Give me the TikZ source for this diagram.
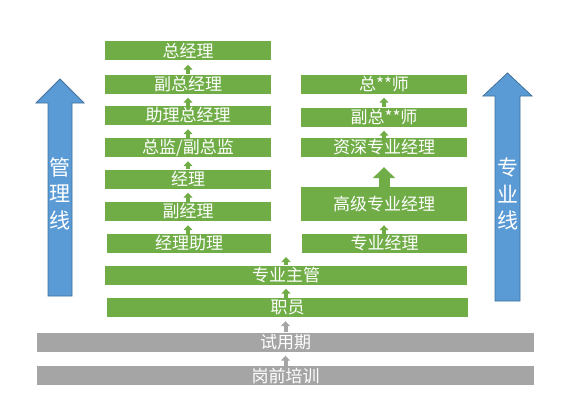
\documentclass[tikz,border=0pt]{standalone}
\usepackage{fontspec}
\setmainfont{Noto Sans CJK SC}
\usetikzlibrary{arrows.meta}
\definecolor{boxgreen}{HTML}{70AD47}
\definecolor{boxgray}{HTML}{A5A5A5}
\definecolor{lineblue}{HTML}{5B9BD5}
\definecolor{lineblueedge}{HTML}{41719C}
\begin{document}
\begin{tikzpicture}[x=1pt,y=-1pt,
  gbox/.style={fill=boxgreen,text=white,inner sep=0pt,minimum height=19pt,
    font=\fontsize{17}{18}\selectfont},
  graybox/.style={gbox,fill=boxgray},
  uparr/.style={-{Triangle[width=9pt,length=5pt]},line width=4pt,boxgreen},
  grayarr/.style={uparr,boxgray},
  bigarr/.style={-{Triangle[width=22pt,length=11pt]},line width=11pt,boxgreen},
  bluearr/.style={fill=lineblue,draw=lineblueedge,line width=0.8pt},
  bluetext/.style={text=white,align=center,font=\fontsize{21}{26.5}\selectfont}]
\useasboundingbox (0,0) rectangle (575,404);
% management line
\node[gbox,minimum width=166pt] (gm) at (188,51) {总经理};
\node[gbox,minimum width=166pt] (vgm) at (188,84) {副总经理};
\node[gbox,minimum width=166pt] (agm) at (188,115.5) {助理总经理};
\node[gbox,minimum width=166pt] (dir) at (188,147.5) {总监/副总监};
\node[gbox,minimum width=166pt] (mgr) at (188,179) {经理};
\node[gbox,minimum width=166pt] (vmgr) at (188,211.5) {副经理};
\node[gbox,minimum width=164pt] (amgr) at (189,243.5) {经理助理};
% expert line
\node[gbox,minimum width=166pt] (chief) at (384,84) {总**师};
\node[gbox,minimum width=166pt] (vchief) at (384,117) {副总**师};
\node[gbox,minimum width=166pt] (senior) at (384,147.5) {资深专业经理};
\node[gbox,minimum width=166pt,minimum height=34pt] (high) at (384,204) {高级专业经理};
\node[gbox,minimum width=165pt] (expert) at (384.5,243.5) {专业经理};
% common base
\node[gbox,minimum width=362pt] (sup) at (286,275) {专业主管};
\node[gbox,minimum width=361pt] (staff) at (287.5,307.5) {职员};
\node[graybox,minimum width=497pt] (trial) at (285.5,342) {试用期};
\node[graybox,minimum width=497pt] (train) at (285.5,375.5) {岗前培训};
\coordinate (supTip) at (286,257);
% steps
\draw[uparr,shorten >=4pt] (vgm.north) -- (gm.south);
\draw[uparr,shorten >=4pt] (agm.north) -- (vgm.south);
\draw[uparr,shorten >=4pt] (dir.north) -- (agm.south);
\draw[uparr,shorten >=4pt] (mgr.north) -- (dir.south);
\draw[uparr,shorten >=4pt] (vmgr.north) -- (mgr.south);
\draw[uparr,shorten >=4pt] (amgr.north -| vmgr) -- (vmgr.south);
\draw[uparr,shorten >=4pt] (vchief.north) -- (chief.south);
\draw[uparr,shorten >=4pt] (senior.north) -- (vchief.south);
\draw[bigarr,shorten >=10pt] (high.north) -- (senior.south);
\draw[uparr,shorten >=4pt] (expert.north -| high) -- (high.south);
\draw[uparr] (sup.north) -- (supTip);
\draw[uparr,shorten >=4pt] (staff.north -| sup) -- (sup.south);
\draw[grayarr,shorten >=4pt] (trial.north) -- (trial.north |- staff.south);
\draw[grayarr,shorten >=4pt] (train.north) -- (trial.south);
% side arrows
\draw[bluearr] (48,296) -- (48,103) -- (36,103) -- (60,79) -- (84,103) -- (72,103) -- (72,296) -- cycle;
\draw[bluearr] (495,301) -- (495,96) -- (483,96) -- (507.5,73) -- (532,96) -- (520,96) -- (520,301) -- cycle;
\node[bluetext] (mline) at (60,193.5) {管\\理\\线};
\node[bluetext] (eline) at (507.5,194) {专\\业\\线};
\end{tikzpicture}
\end{document}
